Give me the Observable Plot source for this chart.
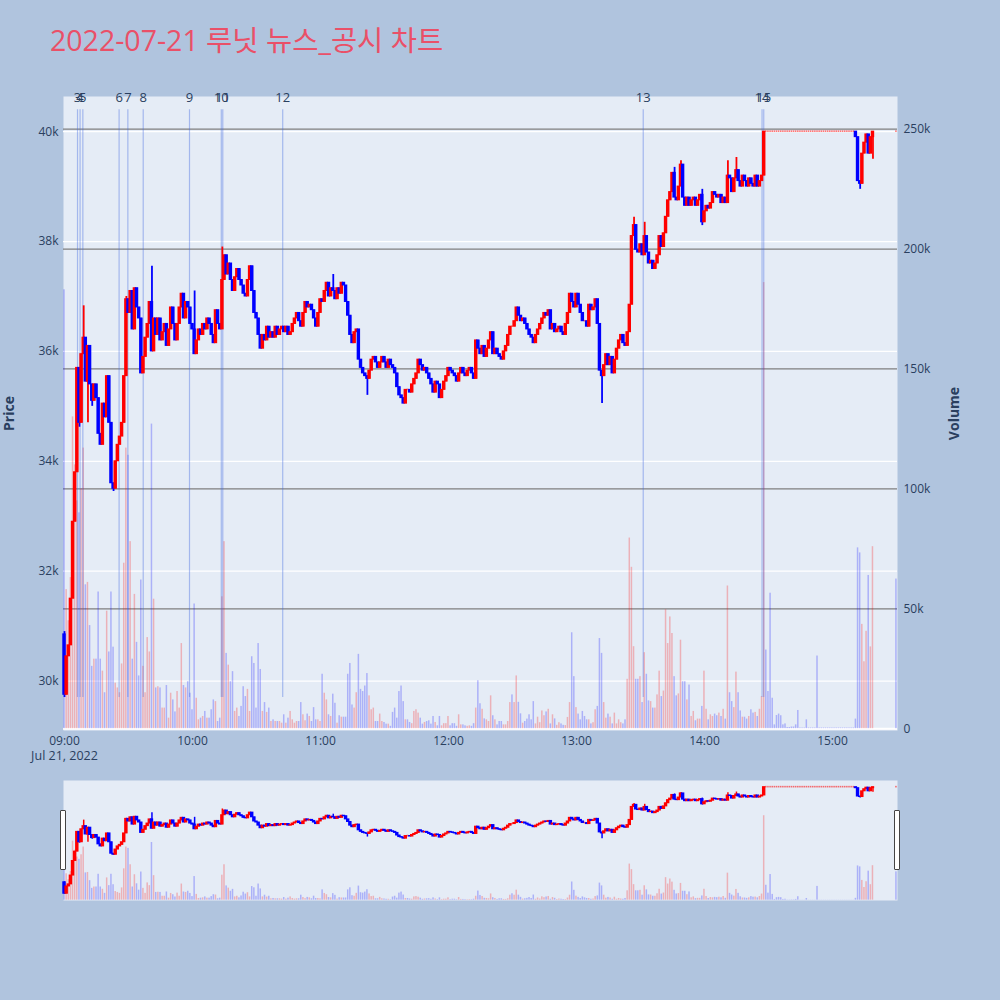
<!DOCTYPE html>
<html>
<head>
<meta charset="utf-8">
<script src="https://cdn.jsdelivr.net/npm/d3@7"></script>
<script src="https://cdn.jsdelivr.net/npm/@observablehq/plot@0.6"></script>
<style>
  html, body { margin: 0; padding: 0; background: #b0c4de; }
  #wrap { position: relative; width: 1000px; height: 1000px; background: #b0c4de; overflow: hidden;
          font-family: "Open Sans", "Noto Sans CJK KR", sans-serif; }
  #wrap svg { position: absolute; left: 0; }
  #title { position: absolute; left: 50px; top: 26px; font-size: 28.5px; line-height: 28px; color: #ea5068; white-space: nowrap;
           font-family: "Open Sans", "Noto Sans CJK KR", sans-serif; }
  .handle { position: absolute; width: 4px; height: 58px; background: #fff; border: 1px solid #444; border-radius: 1px; }
</style>
</head>
<body>
<div id="wrap"><div id="title">2022-07-21 루닛 뉴스_공시 차트</div></div>
<script>
// ---------------- DATA ----------------
const tradeDate = "2022-07-21";
const sessionStart = "09:00";
const closingAuctionTime = "15:30";
const firstOpen = 30850;

// minute closes 09:00 ... 15:19, then the 15:30 closing auction
const closes = [
  29750, 30450, 30650, 31500, 32900, 33800, 35700, 34700, 35950, 36250,
  35450, 36100, 35400, 35100, 35400, 35150, 34500, 34300, 35050, 34800,
  35550, 34700, 33600, 33500, 34000, 34300, 34450, 34700, 35550, 36950,
  36700, 37100, 36400, 37150, 36800, 36600, 35600, 35900, 36250, 36500,
  36900, 36000, 36600, 36300, 36600, 36200, 36350, 36500, 36100, 36400,
  36800, 36500, 36200, 36500, 36800, 37050, 36600, 36900, 36800, 36500,
  36400, 35950, 36200, 36400, 36300, 36500, 36400, 36600, 36500, 36300,
  36150, 36750, 36500, 36400, 37300, 37750, 37400, 37600, 37300, 37100,
  37350, 37500, 37300, 37200, 37050, 37000, 37300, 37550, 37100, 36700,
  36600, 36300, 36050, 36300, 36200, 36450, 36250, 36350, 36250, 36450,
  36300, 36400, 36450, 36350, 36450, 36300, 36350, 36500, 36600, 36700,
  36550, 36450, 36700, 36900, 36800, 36850, 36750, 36600, 36450, 36700,
  36950, 36900, 37100, 37250, 37000, 37150, 37100, 36950, 37150, 37050,
  37250, 37200, 36900, 36650, 36300, 36150, 36350, 36400, 35850, 35700,
  35600, 35550, 35500, 35650, 35850, 35900, 35800, 35700, 35800, 35900,
  35800, 35700, 35850, 35750, 35700, 35600, 35350, 35200, 35150, 35050,
  35300, 35300, 35250, 35400, 35500, 35600, 35850, 35750, 35650, 35700,
  35600, 35500, 35400, 35250, 35450, 35400, 35150, 35300, 35450, 35550,
  35700, 35650, 35600, 35550, 35450, 35600, 35700, 35600, 35550, 35650,
  35700, 35600, 35500, 36200, 36050, 35950, 36100, 35900, 36050, 36200,
  36350, 35950, 36050, 35950, 35900, 35850, 36000, 36100, 36300, 36450,
  36450, 36550, 36800, 36650, 36550, 36600, 36500, 36400, 36300, 36250,
  36150, 36300, 36400, 36500, 36600, 36700, 36650, 36750, 36400, 36500,
  36350, 36400, 36450, 36350, 36300, 36500, 36700, 37050, 36900, 36800,
  37050, 36850, 36700, 36550, 36550, 36450, 36850, 36750, 36800, 36950,
  36500, 35650, 35550, 35750, 35950, 35750, 35900, 35600, 35850, 36050,
  36200, 36300, 36150, 36100, 36350, 36850, 38100, 38300, 37850, 37800,
  37950, 37750, 38100, 37800, 37600, 37650, 37500, 37600, 37750, 38100,
  37900, 38150, 38450, 38750, 38900, 39250, 38800, 38750, 39000, 39400,
  38800, 38650, 38800, 38650, 38750, 38800, 38650, 38750, 38850, 38350,
  38550, 38650, 38600, 38700, 38900, 38850, 38800, 38850, 38700, 38800,
  38700, 39200, 39150, 38900, 39150, 39300, 39100, 39000, 39200, 39100,
  39000, 39150, 39050, 39000, 39200, 39000, 39100, 39200, 40000,
  40000, 40000, 40000, 40000, 40000, 40000, 40000,
  40000, 40000, 40000, 40000, 40000, 40000, 40000,
  40000, 40000, 40000, 40000, 40000, 40000, 40000,
  40000, 40000, 40000, 40000, 40000, 40000, 40000,
  40000, 40000, 40000, 40000, 40000, 40000, 40000,
  40000, 40000, 40000, 40000, 40000, 40000, 40000,
  39900, 39100, 39050, 39600, 39800, 39950, 39600, 39900, 40000,
  40000
];

// minute volumes in thousands of shares (same order as closes)
const volumesK = [
  183, 58, 45, 63, 130, 110, 95, 90, 100, 117,
  60, 61, 43, 26, 29, 29, 57, 29, 24, 15,
  49, 32, 57, 34, 19, 17, 15, 27, 69, 117,
  114, 78, 29, 56, 36, 22, 62, 26, 15, 38,
  32, 127, 54, 17, 17.5, 17, 8.6, 8.6, 18, 4.4,
  14.8, 12, 7, 15.5, 8.6, 35.5, 18, 17, 19.6, 14.8,
  7.9, 52, 12.7, 3.7, 4.4, 5.1, 7.2, 4.4, 4.4, 7.9,
  12, 11.3, 3, 4.4, 55, 78, 31.4, 26.5, 19.6, 23.8,
  7.2, 8.6, 5.1, 9.3, 17.5, 13.4, 16.4, 7.2, 30, 27.2,
  8.6, 35.5, 24.7, 7.2, 10.9, 6.8, 8.6, 3, 3.7, 3,
  3, 3, 2.3, 5.8, 2.3, 4.4, 7.2, 3.7, 2.3, 3,
  3, 10.9, 5.8, 3.3, 6.1, 5.1, 3, 8.8, 3.7, 3.7,
  3, 22.7, 14.8, 12, 5.8, 5.1, 14.4, 10.6, 2.3, 5.4,
  4.8, 4.8, 4.8, 22.7, 27.2, 9.9, 8.6, 15, 31, 16.4,
  15.5, 17.8, 23, 13.7, 7.9, 8.6, 3, 3, 6.1, 3,
  2.6, 1.9, 1.9, 1, 6.8, 8.6, 4.4, 15.5, 17.8, 11.3,
  3.7, 3.7, 2.6, 2.1, 7.2, 7.9, 6.5, 4.4, 1.9, 2.6,
  3, 3.3, 1.9, 5.1, 2.6, 1.2, 5.1, 1.2, 2.1, 2.1,
  5.1, 1.2, 2.1, 2.1, 1, 5.8, 1.6, 1.6, 1.2, 1,
  1.2, 1, 2.1, 8.6, 20, 10.4, 8.1, 4.1, 3.7, 3,
  13.7, 5.4, 3.7, 1.6, 3, 3, 1.6, 1.6, 3, 10.9,
  14.1, 10.9, 22, 11, 6.2, 2.3, 3, 4, 5.8, 3.7,
  11.3, 2, 4.8, 2.5, 7.4, 5.4, 7, 8.1, 2, 5.8,
  4.1, 1.4, 2.5, 2, 1.4, 1.3, 4.7, 10.9, 40, 21.7,
  8.8, 6.1, 3.7, 7.2, 5.1, 3.7, 3.7, 2, 2.5, 7.9,
  9.3, 37.6, 31.4, 10.9, 4.4, 6.1, 4.8, 2, 6.5, 2,
  3.7, 2.5, 2, 3.7, 20.6, 79.5, 67.3, 34.2, 20.6, 20.6,
  21.7, 10.9, 31.7, 22.7, 11.6, 11.3, 8.6, 8.6, 14.1, 24,
  13.4, 15.7, 49.6, 35.5, 46.6, 39.7, 21.7, 13.7, 14.5, 36.9,
  19.6, 19.6, 12, 18.2, 5.1, 7.2, 3.3, 4, 4, 9.3,
  24, 8.1, 3.7, 5.8, 5.1, 6.1, 5.4, 6.5, 5.1, 8.1,
  4, 59.5, 15, 11.3, 8.8, 23.6, 15, 7.4, 4.8, 4.8,
  4, 5.1, 7.9, 6.5, 6.8, 5.1, 8.1, 13.4, 186, 32.8,
  15.5, 56.5, 12.7, 1.6, 5.5, 6.1, 5.4, 1.6, 2, 0.5,
  0.5, 0.7, 0.7, 1.6, 7.6, 0.3, 0.3, 0.3, 3.7, 0.3,
  0.3, 0.3, 0.3, 30.3, 0.3, 0.3, 0.3, 0.3, 0.3, 0.3,
  0.3, 0.3, 0.3, 0.3, 0.3, 0.3, 0.3, 0.3, 0.3, 0.3,
  0.3, 4, 75.4, 73.3, 43.5, 27.9, 40.6, 63.9, 34.1, 75.9,
  62.4
];

// wick extremes beyond the candle bodies: [minute index, price]
const wickHighs = [[0, 30900], [9, 36830], [29, 37000], [41, 37550], [61, 37100], [74, 37900], [126, 37400],
  [267, 38440], [272, 38350], [286, 39350], [289, 39470], [299, 38950], [311, 39470], [315, 39530]];
const wickLows = [[0, 29700], [7, 34620], [11, 34700], [13, 35000], [23, 33450], [142, 35200], [252, 35050],
  [299, 38290], [373, 38950], [379, 39500]];

// news / disclosure markers
const newsLabels = ["3", "4", "5", "6", "7", "8", "9", "10", "11", "12", "13", "14", "15"];
const newsTimes = ["09:06:06", "09:07:18", "09:08:36", "09:25:36", "09:29:42", "09:36:54", "09:58:36",
  "10:13:30", "10:14:12", "10:42:18", "13:31:18", "14:27:00", "14:27:48"];

const priceTicks = [30000, 32000, 34000, 36000, 38000, 40000];
const volumeTicks = [0, 50000, 100000, 150000, 200000, 250000];
const hourTicks = ["09:00", "10:00", "11:00", "12:00", "13:00", "14:00", "15:00"];

// ---------------- BUILD ----------------
const parseHM = d3.utcParse("%Y-%m-%d %H:%M");
const parseHMS = d3.utcParse("%Y-%m-%d %H:%M:%S");
const t0 = parseHM(`${tradeDate} ${sessionStart}`);
const tAuction = parseHM(`${tradeDate} ${closingAuctionTime}`);
const MIN = 60000;
const hiMap = new Map(wickHighs), loMap = new Map(wickLows);

const candles = closes.map((close, i) => {
  const time = i < closes.length - 1 ? new Date(+t0 + i * MIN) : tAuction;
  const open = i === 0 ? firstOpen : closes[i - 1];
  const high = Math.max(open, close, hiMap.get(i) ?? -Infinity);
  const low = Math.min(open, close, loMap.get(i) ?? Infinity);
  return {time, open, close, high, low, volume: volumesK[i] * 1000,
    candleColor: close < open ? "#0000ff" : "#ff0000",
    volColor: close > open ? "#ff0000" : "#0000ff",
    flat: close === open};
});
const bodies = candles.filter(d => !d.flat);
const flats = candles.filter(d => d.flat);
const news = newsLabels.map((label, i) => ({label, time: parseHMS(`${tradeDate} ${newsTimes[i]}`)}));
const hourDates = hourTicks.map(h => parseHM(`${tradeDate} ${h}`));

const dayLow = d3.min(candles, d => d.low);
const dayHigh = d3.max(candles, d => d.high);

const xDomain = [new Date(+t0 - 28000), new Date(+tAuction + 30000)];
const priceDomain = [29100, 40640];
const volDomain = [-750, 263600];

const FONT = '"Open Sans", "Noto Sans CJK KR", sans-serif';
const baseStyle = {background: "transparent", overflow: "visible", fontFamily: FONT, fontSize: "12px", color: "#2a3f5f"};
const W = 1000, ML = 63, MR = 103;
const mainDims = {width: W, height: 780, marginLeft: ML, marginRight: MR, marginTop: 96, marginBottom: 50};
const miniDims = {width: W, height: 120, marginLeft: ML, marginRight: MR, marginTop: 0, marginBottom: 0};
const off = s => d => new Date(+d.time + s * 1000);

function candleMarks(bodyHalf, wickWidth) {
  return [
    Plot.ruleX(candles, {x: "time", y1: "low", y2: "high", stroke: "candleColor", strokeWidth: wickWidth}),
    Plot.rect(bodies, {x1: off(-bodyHalf), x2: off(bodyHalf), y1: "open", y2: "close", fill: "candleColor",
      insetTop: -0.5, insetBottom: -0.5}),
    Plot.rect(flats, {x1: off(-22), x2: off(22), y1: "close", y2: "close", insetTop: -0.8, insetBottom: -0.8,
      fill: "#ff0000", fillOpacity: 0.55})
  ];
}
function volumeMarks() {
  return Plot.rect(candles, {x1: off(-21), x2: off(21), y1: 0, y2: "volume", fill: "volColor", fillOpacity: 0.25});
}

const wrap = document.getElementById("wrap");
function place(svg, top) { svg.style.top = top + "px"; wrap.appendChild(svg); }

// Layer 1: price background, grid, axes
place(Plot.plot({
  ...mainDims, style: baseStyle,
  x: {type: "utc", domain: xDomain, axis: null},
  y: {domain: priceDomain, axis: null},
  color: {type: "identity"},
  marks: [
    Plot.frame({fill: "#e5ecf6", stroke: "none"}),
    Plot.gridY(priceTicks, {stroke: "#ffffff", strokeOpacity: 1, strokeWidth: 1.2}),
    Plot.axisY(priceTicks, {anchor: "left", tickSize: 0, tickPadding: 5, tickFormat: d => d / 1000 + "k", label: null, fontSize: 12}),
    Plot.axisX(hourDates, {anchor: "bottom", tickSize: 0, tickPadding: 6, tickFormat: d3.utcFormat("%H:%M"), label: null, fontSize: 12}),
    Plot.text([{time: t0, label: d3.utcFormat("%b %d, %Y")(t0)}], {x: "time", text: "label", frameAnchor: "bottom", dy: 29, fontSize: 12.5, fill: "#2a3f5f"}),
    Plot.text(["Price"], {frameAnchor: "left", dx: -54, rotate: -90, textAnchor: "middle", fontWeight: "bold", fontSize: 14, fill: "#2a3f5f"})
  ]
}), 0);

// Layer 2: volume
place(Plot.plot({
  ...mainDims, style: baseStyle,
  x: {type: "utc", domain: xDomain, axis: null},
  y: {domain: volDomain, axis: null},
  color: {type: "identity"},
  marks: [
    Plot.gridY(volumeTicks.filter(v => v > 0), {stroke: "#7f7f7f", strokeOpacity: 1, strokeWidth: 1.2}),
    Plot.ruleY([0], {stroke: "#ffffff", strokeWidth: 2}),
    volumeMarks(),
    Plot.axisY(volumeTicks, {anchor: "right", tickSize: 0, tickPadding: 6, tickFormat: d => d === 0 ? "0" : d / 1000 + "k", label: null, fontSize: 12}),
    Plot.text(["Volume"], {frameAnchor: "right", dx: 57, rotate: -90, textAnchor: "middle", fontWeight: "bold", fontSize: 14, fill: "#2a3f5f"})
  ]
}), 0);

// Layer 3: news lines + candles
place(Plot.plot({
  ...mainDims, style: baseStyle,
  x: {type: "utc", domain: xDomain, axis: null},
  y: {domain: priceDomain, axis: null},
  color: {type: "identity"},
  marks: [
    Plot.ruleX(news, {x: "time", y1: dayLow, y2: dayHigh * 1.01, stroke: "#4169e1", strokeOpacity: 0.4, strokeWidth: 1.2}),
    ...candleMarks(48, 1.8),
    Plot.text(news, {x: "time", text: "label", frameAnchor: "top", dy: 1, lineAnchor: "middle", fontSize: 13, fill: "#2a3f5f"})
  ]
}), 0);

// Range slider: volume + background
place(Plot.plot({
  ...miniDims, style: baseStyle,
  x: {type: "utc", domain: xDomain, axis: null},
  y: {domain: volDomain, axis: null},
  color: {type: "identity"},
  marks: [
    Plot.frame({fill: "#e5ecf6", stroke: "none"}),
    volumeMarks()
  ]
}), 780);

// Range slider: candles
place(Plot.plot({
  ...miniDims, style: baseStyle,
  x: {type: "utc", domain: xDomain, axis: null},
  y: {domain: priceDomain, axis: null},
  color: {type: "identity"},
  marks: candleMarks(48, 1.5)
}), 780);

// Range slider handles
for (const left of [60, 894]) {
  const h = document.createElement("div");
  h.className = "handle";
  h.style.left = left + "px";
  h.style.top = "810px";
  wrap.appendChild(h);
}
</script>
</body>
</html>
